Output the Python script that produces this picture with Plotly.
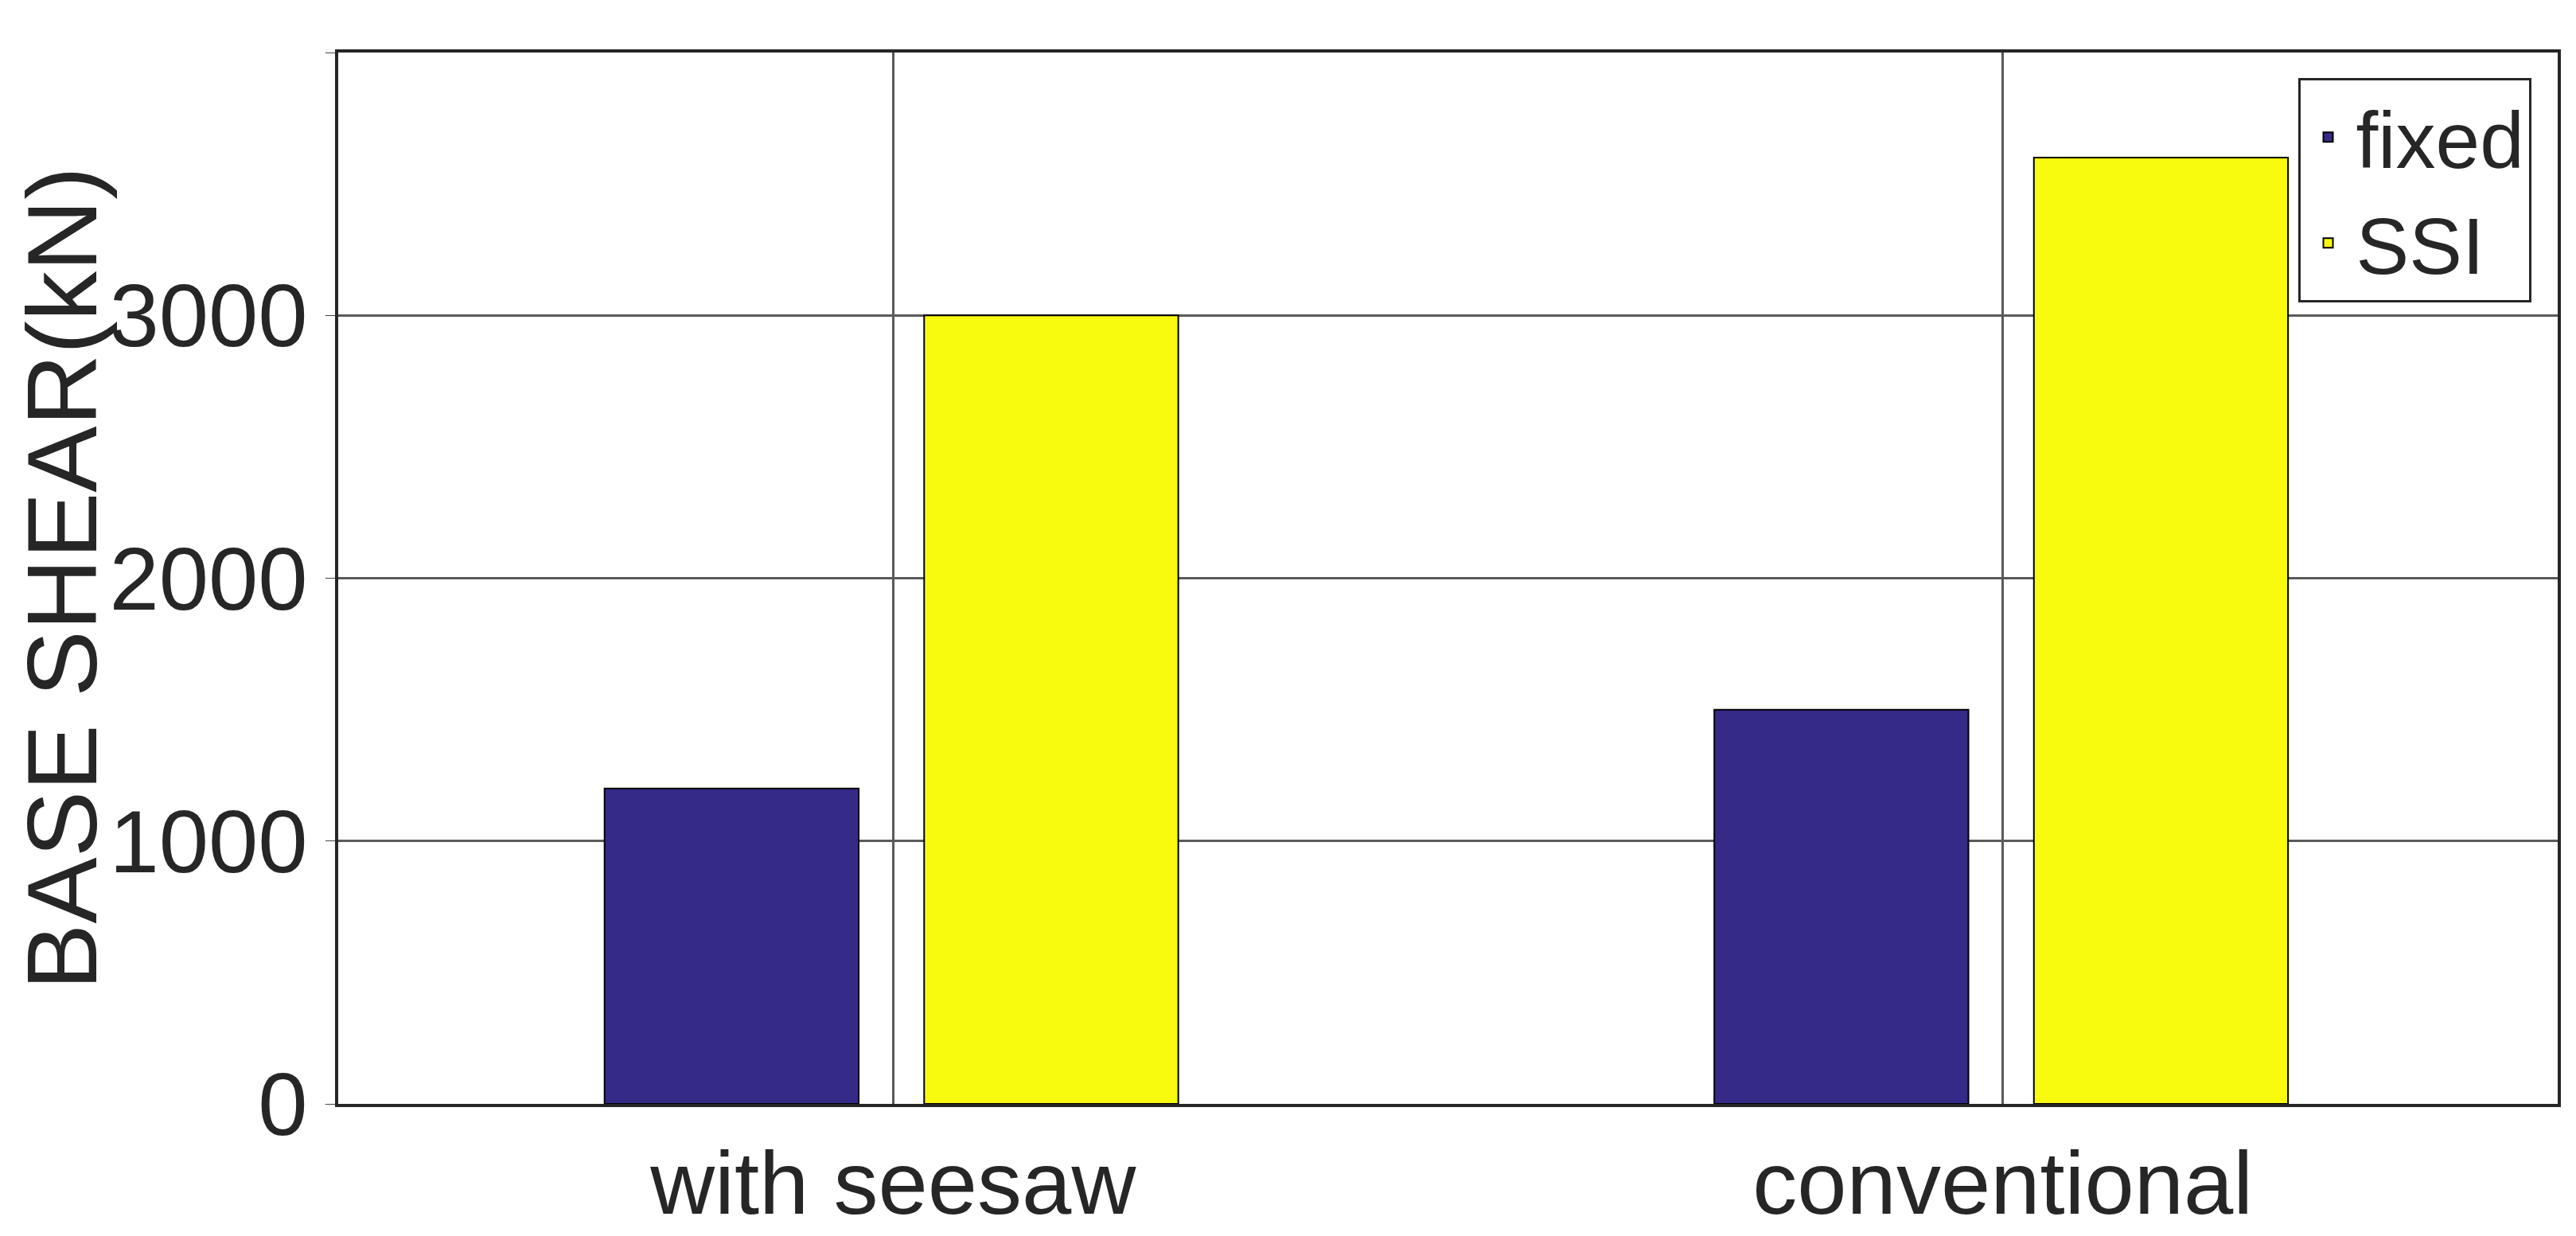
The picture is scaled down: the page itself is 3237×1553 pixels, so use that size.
import plotly.graph_objects as go

categories = ["with seesaw", "conventional"]
fixed = [1200, 1500]
ssi = [3000, 3600]

fig = go.Figure()
fig.add_trace(go.Bar(x=categories, y=fixed, name="fixed", width=0.229, offset=-0.26,
                     marker=dict(color="#352a87", line=dict(color="black", width=2))))
fig.add_trace(go.Bar(x=categories, y=ssi, name="SSI", width=0.229, offset=0.028,
                     marker=dict(color="#f9fb0e", line=dict(color="black", width=2))))

fig.update_layout(
    width=3237, height=1553,
    margin=dict(l=396, r=31, t=58, b=147),
    plot_bgcolor="white", paper_bgcolor="white",
    font=dict(family="Liberation Sans, Arial", size=112, color="#262626"),
    barmode="overlay",
    showlegend=True,
    legend=dict(x=0.988, y=0.976, xanchor="right", yanchor="top",
                bordercolor="#262626", borderwidth=3, bgcolor="white",
                font=dict(size=100), itemwidth=60, tracegroupgap=0),
)
fig.update_xaxes(range=[-0.5, 1.5], showgrid=True, gridcolor="#5a5a5a", gridwidth=3,
                 showline=True, linecolor="#262626", linewidth=4, mirror=True, ticks="")
fig.update_yaxes(range=[0, 4000], dtick=1000, showgrid=True, gridcolor="#5a5a5a", gridwidth=3,
                 showline=True, linecolor="#262626", linewidth=4, mirror=True,
                 ticks="outside", ticklen=12,
                 title=dict(text="BASE SHEAR(kN)", font=dict(size=125), standoff=30),
                 zeroline=False)

fig.write_html("out.html")
